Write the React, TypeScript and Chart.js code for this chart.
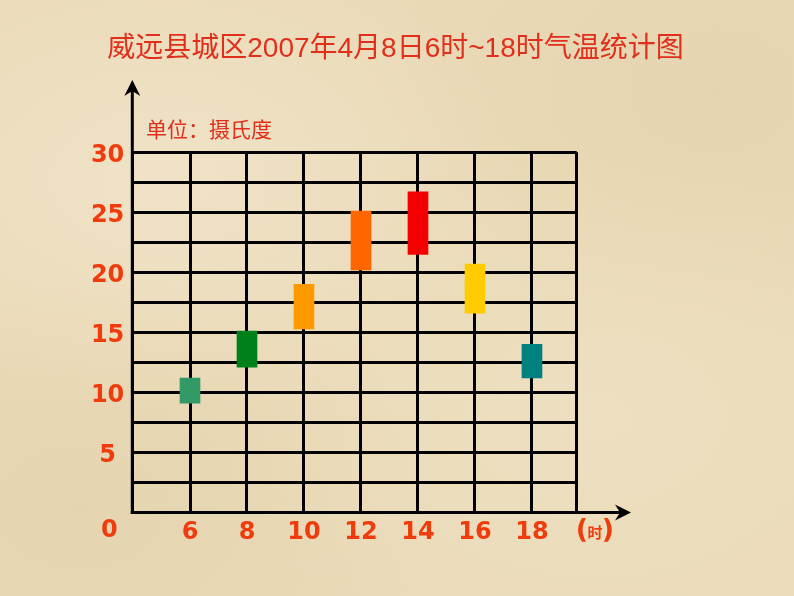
import React, { useEffect, useRef } from 'react';
import { Chart, registerables } from 'chart.js';

Chart.register(...registerables);

const TITLE = '威远县城区2007年4月8日6时~18时气温统计图';
const UNIT_LABEL = '单位：摄氏度';
const HOUR_UNIT = '时';
const ZERO_LABEL = '0';
const HOURS = [6, 8, 10, 12, 14, 16, 18];
const TEMP_LOW = [9.1, 12.1, 15.3, 20.2, 21.5, 16.6, 11.2];
const TEMP_HIGH = [11.2, 15.1, 19.0, 25.1, 26.7, 20.7, 14.0];
const BAR_COLORS = ['#339966', '#00801a', '#ff9900', '#ff6600', '#f50000', '#ffcc00', '#00807f'];
const Y_TICK_LABELS = [5, 10, 15, 20, 25, 30];
const Y_GRID_VALUES = [0, 2.5, 5, 7.5, 10, 12.5, 15, 17.5, 20, 22.5, 25, 27.5, 30];

const X_MIN = 3.975;
const X_MAX = 19.57;
const Y_MIN = 0;
const Y_MAX = 30;

const LABEL_COLOR = '#f03c0c';
const TITLE_COLOR = '#e0301c';
const TICK_FONT = { family: '"DejaVu Sans", Verdana, sans-serif', size: 24, weight: 'bold' as const };

function arrowHead(ctx: CanvasRenderingContext2D, tx: number, ty: number, dir: 'up' | 'right') {
  ctx.beginPath();
  if (dir === 'up') {
    ctx.moveTo(tx, ty);
    ctx.lineTo(tx + 8, ty + 16);
    ctx.lineTo(tx, ty + 11);
    ctx.lineTo(tx - 8, ty + 16);
  } else {
    ctx.moveTo(tx, ty);
    ctx.lineTo(tx - 16, ty - 8);
    ctx.lineTo(tx - 11, ty);
    ctx.lineTo(tx - 16, ty + 8);
  }
  ctx.closePath();
  ctx.fill();
}

const decorPlugin = {
  id: 'decor',
  afterDraw(chart: any) {
    const ctx: CanvasRenderingContext2D = chart.ctx;
    const xs = chart.scales.x;
    const ys = chart.scales.y;
    const x0 = xs.getPixelForValue(X_MIN);
    const y0 = ys.getPixelForValue(Y_MIN);
    ctx.save();
    ctx.strokeStyle = '#000';
    ctx.fillStyle = '#000';
    ctx.lineWidth = 3;
    // y axis extension with arrow
    ctx.beginPath();
    ctx.moveTo(x0, y0 + 1.5);
    ctx.lineTo(x0, 90);
    ctx.stroke();
    arrowHead(ctx, x0, 80, 'up');
    // x axis extension with arrow
    ctx.beginPath();
    ctx.moveTo(x0 - 1.5, y0);
    ctx.lineTo(622, y0);
    ctx.stroke();
    arrowHead(ctx, 631, y0, 'right');

    // title
    ctx.fillStyle = TITLE_COLOR;
    ctx.textAlign = 'center';
    ctx.textBaseline = 'middle';
    ctx.font = '28px "Liberation Sans", "Noto Sans CJK SC", sans-serif';
    ctx.fillText(TITLE, 395.5, 49);

    // unit label
    ctx.textAlign = 'left';
    ctx.font = '21px "Noto Sans CJK SC", sans-serif';
    ctx.fillText(UNIT_LABEL, 146, 129.5);

    // zero label and hour unit
    ctx.fillStyle = LABEL_COLOR;
    ctx.textAlign = 'center';
    ctx.font = 'bold 24px "DejaVu Sans", Verdana, sans-serif';
    ctx.fillText(ZERO_LABEL, 109.3, 530.5);
    ctx.font = 'bold 27px "DejaVu Sans", Verdana, sans-serif';
    ctx.fillText('(', 582, 531);
    ctx.fillText(')', 608, 531);
    ctx.font = 'bold 15px "Noto Sans CJK SC", sans-serif';
    ctx.fillText(HOUR_UNIT, 595, 532);
    ctx.restore();
  },
};

export default function App() {
  const canvasRef = useRef<HTMLCanvasElement | null>(null);

  useEffect(() => {
    if (!canvasRef.current) return;
    const data = HOURS.map((h, i) => ({ x: h, y: [TEMP_LOW[i], TEMP_HIGH[i]] }));
    const chart = new Chart(canvasRef.current, {
      type: 'bar',
      data: {
        datasets: [
          {
            data: data as any,
            backgroundColor: BAR_COLORS,
            borderWidth: 0,
            borderSkipped: false,
            barThickness: 20,
          },
        ],
      },
      options: {
        animation: false,
        responsive: false,
        events: [],
        layout: { padding: { top: 152.3, right: 217.3, left: 0, bottom: 0 } },
        plugins: {
          legend: { display: false },
          title: { display: false },
          tooltip: { enabled: false },
        },
        scales: {
          x: {
            type: 'linear',
            min: X_MIN,
            max: X_MAX,
            offset: false,
            afterBuildTicks: (scale: any) => {
              scale.ticks = [X_MIN, ...HOURS, X_MAX].map((v) => ({ value: v }));
            },
            afterFit: (scale: any) => {
              scale.height = 83.5;
            },
            border: { display: false },
            grid: {
              offset: false,
              color: '#000',
              lineWidth: 3,
              drawTicks: false,
            },
            ticks: {
              autoSkip: false,
              maxRotation: 0,
              padding: 6,
              color: LABEL_COLOR,
              font: TICK_FONT,
              callback: (v: any) => (HOURS.includes(Number(v)) ? String(v) : ''),
            },
          },
          y: {
            type: 'linear',
            min: Y_MIN,
            max: Y_MAX,
            afterBuildTicks: (scale: any) => {
              scale.ticks = Y_GRID_VALUES.map((v) => ({ value: v }));
            },
            afterFit: (scale: any) => {
              scale.width = 132.3;
            },
            border: { display: false },
            grid: {
              color: '#000',
              lineWidth: 3,
              drawTicks: false,
            },
            ticks: {
              autoSkip: false,
              padding: 8,
              crossAlign: 'center',
              labelOffset: 3,
              color: LABEL_COLOR,
              font: TICK_FONT,
              callback: (v: any) => (Y_TICK_LABELS.includes(Number(v)) ? String(v) : ''),
            },
          },
        },
      },
      plugins: [decorPlugin],
    });
    return () => chart.destroy();
  }, []);

  return (
    <div
      style={{
        position: 'fixed',
        left: 0,
        top: 0,
        width: 794,
        height: 596,
        backgroundColor: '#eadab8',
        backgroundImage:
          'radial-gradient(ellipse at 20% 30%, rgba(243,232,208,0.6), rgba(243,232,208,0) 40%),' +
          'radial-gradient(ellipse at 75% 70%, rgba(240,228,200,0.5), rgba(240,228,200,0) 45%),' +
          'radial-gradient(ellipse at 90% 15%, rgba(222,202,162,0.35), rgba(222,202,162,0) 35%),' +
          'radial-gradient(ellipse at 10% 85%, rgba(222,202,162,0.35), rgba(222,202,162,0) 35%)',
      }}
    >
      <canvas ref={canvasRef} width={794} height={596} style={{ display: 'block' }} />
    </div>
  );
}
